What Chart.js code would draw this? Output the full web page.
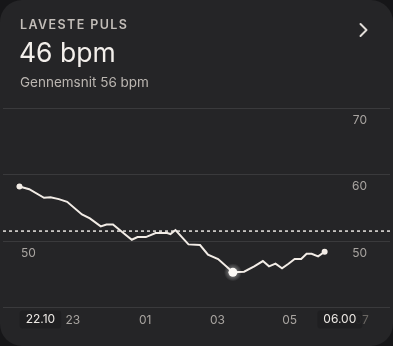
<!DOCTYPE html>
<html lang="da">
<head>
<meta charset="UTF-8">
<title>Laveste puls</title>
<script src="https://cdn.jsdelivr.net/npm/chart.js"></script>
<style>
  html, body { margin: 0; padding: 0; background: #161618; }
  .card { position: relative; width: 393px; height: 346px; background: #252527; border-radius: 22px; overflow: hidden; font-family: Inter, "Noto Sans", sans-serif; }
  #chart { position: absolute; left: 0; top: 0; }
  .head { position: absolute; left: 0; top: 0; }
</style>
</head>
<body>
<div class="card">
  <canvas id="chart" width="393" height="346"></canvas>
  <svg class="head" width="393" height="100" font-family="Inter, Noto Sans, sans-serif">
    <text x="20" y="29" font-size="12.5" font-weight="600" letter-spacing="1.4" fill="#c2bdb8">LAVESTE PULS</text>
    <text x="19" y="62" font-size="26.5" fill="#f3efeb">46 bpm</text>
    <text x="20" y="87" font-size="13.5" fill="#bbb6b1">Gennemsnit 56 bpm</text>
    <polyline points="360.5,24 366.5,30 360.5,36" stroke="#e2ded9" stroke-width="2" fill="none" stroke-linecap="round" stroke-linejoin="round"/>
  </svg>
</div>
<script>
// hours from midnight of 22.10 (values above 24 are the next morning)
const times = [21.52, 21.79, 22.20, 22.38, 22.61, 22.84, 23.25, 23.47, 23.77, 23.93, 24.11, 24.38, 24.63,
  24.79, 25.02, 25.29, 25.61, 25.70, 25.84, 26.20, 26.52, 26.74, 27.02, 27.43, 27.74, 28.02, 28.26, 28.43,
  28.61, 28.79, 28.97, 29.14, 29.32, 29.47, 29.61, 29.79, 29.97];
const pulse = [58.2, 57.8, 56.5, 56.6, 56.3, 55.9, 54.0, 53.4, 52.2, 52.5, 52.5, 51.3, 50.2,
  50.6, 50.6, 51.2, 51.2, 51.05, 51.65, 49.5, 49.4, 47.95, 47.3, 45.3, 45.4, 46.2, 47.0, 46.2,
  46.6, 45.9, 46.6, 47.3, 47.3, 48.1, 48.1, 47.7, 48.4];
const referenceLine = 51.5;

const hourTicks = [23, 25, 27, 29, 31];
const hourLabels = ["23", "01", "03", "05", "07"];
const rangeLabels = ["22.10", "06.00"];
const rangeAt = [22.10, 30.39];
const pulseTicks = [40, 50, 60, 70];

const xMin = 21.064, xMax = 31.78;
const lineColor = "#f2ece6";
const minIdx = pulse.indexOf(Math.min(...pulse));

// soft glow round the lowest reading
const haloPlugin = {
  id: "halo",
  afterDatasetsDraw(chart) {
    const el = chart.getDatasetMeta(0).data[minIdx];
    if (!el) return;
    const c = chart.ctx;
    const g = c.createRadialGradient(el.x, el.y, 0, el.x, el.y, 9);
    g.addColorStop(0, "rgba(255,255,255,0.5)");
    g.addColorStop(0.5, "rgba(255,255,255,0.28)");
    g.addColorStop(1, "rgba(255,255,255,0)");
    c.save();
    c.fillStyle = g;
    c.beginPath();
    c.arc(el.x, el.y, 9, 0, Math.PI * 2);
    c.fill();
    c.fillStyle = "#fbf8f5";
    c.beginPath();
    c.arc(el.x, el.y, 4.5, 0, Math.PI * 2);
    c.fill();
    c.restore();
  }
};

// boxed start / end labels on the time axis
const rangePlugin = {
  id: "rangeLabels",
  afterDraw(chart) {
    const c = chart.ctx;
    const xs = chart.scales.x;
    const top = chart.chartArea.bottom + 3;
    c.save();
    c.font = "12px Inter, 'Noto Sans', sans-serif";
    c.textAlign = "center";
    c.textBaseline = "middle";
    rangeLabels.forEach((txt, i) => {
      const x = xs.getPixelForValue(rangeAt[i]);
      const w = c.measureText(txt).width + 12;
      c.fillStyle = "rgba(31,31,33,0.9)";
      c.beginPath();
      c.roundRect(x - w / 2, top, w, 18, 3);
      c.fill();
      c.fillStyle = "#ece8e4";
      c.fillText(txt, x, top + 9);
    });
    c.restore();
  }
};

const ctx = document.getElementById("chart").getContext("2d");
new Chart(ctx, {
  type: "line",
  data: {
    datasets: [
      {
        data: times.map((t, i) => ({ x: t, y: pulse[i] })),
        borderColor: lineColor,
        borderWidth: 2,
        tension: 0,
        pointRadius: (c) => (c.dataIndex === 0 || c.dataIndex === times.length - 1 ? 3 : 0),
        pointBackgroundColor: lineColor,
        pointBorderWidth: 0,
        pointHoverRadius: 0
      },
      {
        data: [{ x: xMin, y: referenceLine }, { x: xMax, y: referenceLine }],
        borderColor: "#e8e4e0",
        borderWidth: 1.5,
        borderDash: [3, 3],
        pointRadius: 0
      }
    ]
  },
  options: {
    responsive: false,
    animation: false,
    layout: { padding: { top: 108, bottom: 20, left: 0, right: 0 } },
    plugins: { legend: { display: false }, tooltip: { enabled: false } },
    scales: {
      x: {
        type: "linear",
        min: xMin,
        max: xMax,
        grid: { display: false },
        border: { display: false },
        afterBuildTicks: (s) => { s.ticks = hourTicks.map((v) => ({ value: v })); },
        ticks: {
          autoSkip: false,
          maxRotation: 0,
          padding: -2,
          font: { family: "Inter", size: 12 },
          color: (c) => (c.index === hourTicks.length - 1 ? "#6a6763" : "#a9a5a1"),
          callback: (v, i) => hourLabels[i]
        }
      },
      y: {
        position: "right",
        min: 40,
        max: 70,
        afterBuildTicks: (s) => { s.ticks = pulseTicks.map((v) => ({ value: v })); },
        afterFit: (s) => { s.width = 0; },
        grid: { color: "#3a3a3c", drawTicks: false },
        border: { display: false },
        ticks: {
          mirror: true,
          padding: -23,
          labelOffset: 12,
          font: { family: "Inter", size: 12 },
          color: "#a9a5a1",
          callback: (v) => (v === 40 ? "" : v)
        }
      },
      yl: {
        position: "left",
        min: 40,
        max: 70,
        afterBuildTicks: (s) => { s.ticks = pulseTicks.map((v) => ({ value: v })); },
        afterFit: (s) => { s.width = 0; },
        grid: { display: false },
        border: { display: false },
        ticks: {
          mirror: true,
          padding: 18,
          labelOffset: 12,
          font: { family: "Inter", size: 12 },
          color: "#a9a5a1",
          callback: (v) => (v === 50 ? "50" : "")
        }
      }
    }
  },
  plugins: [haloPlugin, rangePlugin]
});
</script>
</body>
</html>
